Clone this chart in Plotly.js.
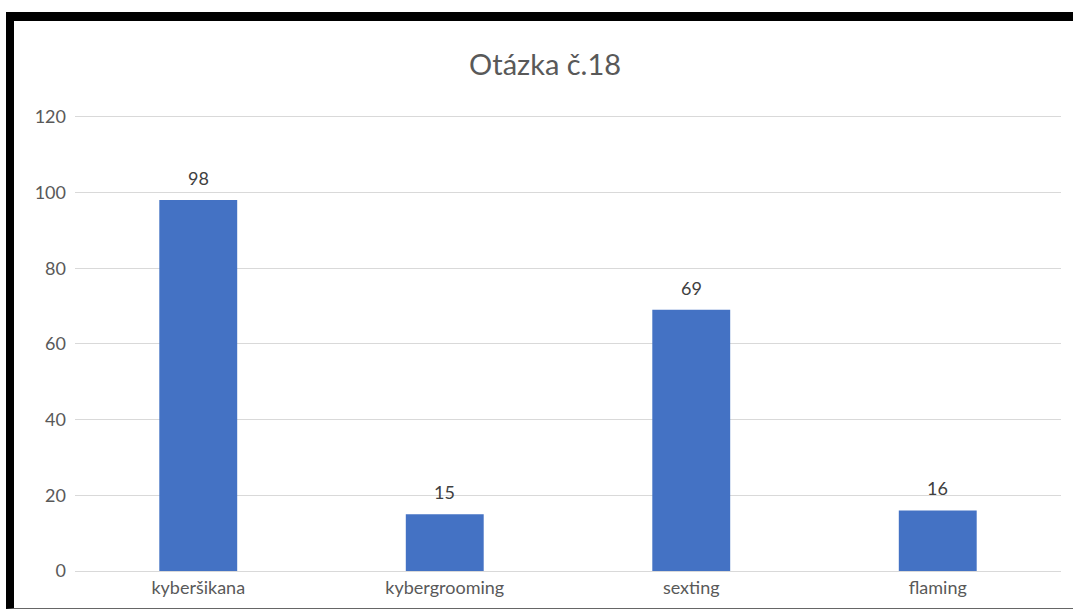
<!DOCTYPE html>
<html>
<head>
<meta charset="utf-8">
<script src="https://cdn.plot.ly/plotly-3.0.1.min.js"></script>
<style>
  html, body { margin: 0; padding: 0; background: #fff; }
  #chart { width: 1073px; height: 610px; }
  #frame {
    position: absolute; left: 6px; top: 12px; width: 1067px; height: 597px;
    border-top: 9px solid #000; border-left: 8px solid #000; border-bottom: 1px solid #666;
    box-sizing: border-box; pointer-events: none;
  }
</style>
</head>
<body>
<div id="chart"></div>
<div id="frame"></div>
<script>
// data
var categories = ['kyberšikana', 'kybergrooming', 'sexting', 'flaming'];
var counts = [98, 15, 69, 16];

var bars = {
    x: categories,
    y: counts,
    type: 'bar',
    marker: { color: '#4472C4' },
    width: 0.316,
    hoverinfo: 'x+y'
};

// value labels above the bars
var labels = categories.map(function (c, i) {
    return {
        x: c, y: counts[i], xref: 'x', yref: 'y',
        text: String(counts[i]), showarrow: false,
        yanchor: 'bottom', yshift: 9,
        font: { family: 'Lato, sans-serif', size: 18, color: '#404040' }
    };
});

var layout = {
    width: 1073,
    height: 610,
    margin: { l: 75, r: 12, t: 113, b: 39 },
    paper_bgcolor: '#fff',
    plot_bgcolor: '#fff',
    showlegend: false,
    font: { family: 'Lato, sans-serif', color: '#595959' },
    title: {
        text: 'Otázka č.18',
        font: { size: 29, color: '#595959' },
        xref: 'container', x: 0.508, xanchor: 'center',
        yref: 'container', y: 0.893, yanchor: 'middle'
    },
    annotations: labels,
    xaxis: {
        showgrid: false,
        showline: false,
        ticks: '',
        ticklabelstandoff: 4,
        tickfont: { size: 18, color: '#595959' }
    },
    yaxis: {
        range: [0, 121],
        tickvals: [0, 20, 40, 60, 80, 100, 120],
        showgrid: true,
        gridcolor: '#d9d9d9',
        gridwidth: 1,
        zeroline: true,
        zerolinecolor: '#d9d9d9',
        zerolinewidth: 1,
        showline: false,
        ticks: '',
        ticklabelstandoff: 8,
        tickfont: { size: 18, color: '#595959' }
    }
};

Plotly.newPlot('chart', [bars], layout, { displayModeBar: false, staticPlot: true });
</script>
</body>
</html>
